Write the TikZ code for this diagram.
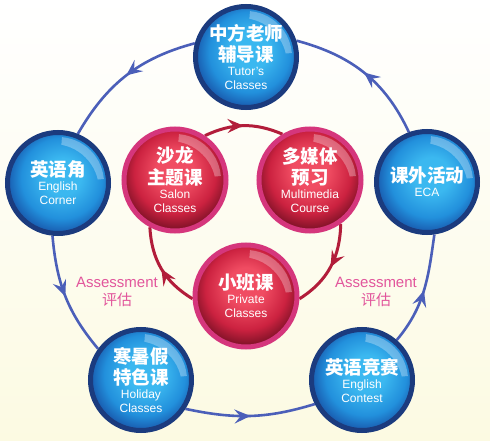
\documentclass[tikz,border=0pt]{standalone}
\usepackage{fontspec}
\setmainfont{Liberation Sans}
\newfontfamily\cjk{Noto Sans CJK SC}
\usetikzlibrary{arrows.meta,decorations.markings,backgrounds}

\definecolor{ringblue}{HTML}{4B5FB9}
\definecolor{ringred}{HTML}{B21D3A}
\definecolor{navyrim}{HTML}{1B3B7E}
\definecolor{bltop}{HTML}{3BB8F0}
\definecolor{blmid}{HTML}{2290DC}
\definecolor{bldark}{HTML}{1858AC}
\definecolor{pinkrim}{HTML}{D5367C}
\definecolor{rdtop}{HTML}{F04C62}
\definecolor{rdmid}{HTML}{CC2240}
\definecolor{rddark}{HTML}{520818}
\definecolor{assesspink}{HTML}{E2569C}
\definecolor{paleyellow}{HTML}{FCFAE2}

\pgfdeclareradialshading{bluesphere}{\pgfpoint{3bp}{4bp}}{color(0bp)=(bltop); color(9bp)=(bltop); color(20bp)=(blmid); color(27bp)=(bldark); color(50bp)=(bldark)}
\pgfdeclareradialshading{redsphere}{\pgfpoint{0bp}{6bp}}{color(0bp)=(rdtop); color(9bp)=(rdtop); color(20bp)=(rdmid); color(31bp)=(rddark); color(50bp)=(rddark)}

\newcommand{\zh}[1]{{\cjk\bfseries\fontsize{18.5}{22}\selectfont #1}}

\begin{document}
\begin{tikzpicture}[x=1pt, y=1pt,
    gloss/.style={path picture={
        \coordinate (gc) at (path picture bounding box.center);
        \begin{scope}
            \clip (gc) -- ++(5:60pt) arc (5:85:60pt) -- cycle;
            \fill[white, opacity=0.3, even odd rule] (gc) circle (46pt) ([shift={(-5pt,-7pt)}]gc) circle (46pt);
        \end{scope}}},
    bluenode/.style={circle, minimum size=101pt, inner sep=0pt, draw=navyrim, line width=5pt,
        shading=bluesphere, gloss, text=white, align=center, font=\fontsize{12}{14}\selectfont},
    rednode/.style={circle, minimum size=102pt, inner sep=0pt, draw=pinkrim, line width=5pt,
        shading=redsphere, gloss, text=white, align=center, font=\fontsize{12}{14}\selectfont},
    assess/.style={text=assesspink, align=center, font=\fontsize{15}{18}\selectfont},
    bluelink/.style={color=ringblue, line width=2.6pt, postaction={decorate},
        decoration={markings, mark=at position 0.5 with {\arrow{Stealth[length=16pt,width=14pt,inset=6pt]}}}},
    redlink/.style={color=ringred, line width=3pt, postaction={decorate},
        decoration={markings, mark=at position 0.5 with {\arrow{Stealth[length=16pt,width=14pt,inset=6pt]}}}}]

    % outer cycle
    \node[bluenode] (tutor) at (246,383) {\zh{中方老师}\\[3pt]\zh{辅导课}\\Tutor's\\Classes};
    \node[bluenode] (corner) at (58,257) {\zh{英语角}\\English\\Corner};
    \node[bluenode] (holiday) at (141,60) {\zh{寒暑假}\\[3pt]\zh{特色课}\\Holiday\\Classes};
    \node[bluenode] (contest) at (362,60) {\zh{英语竞赛}\\English\\Contest};
    \node[bluenode] (eca) at (427,258) {\zh{课外活动}\\ECA};

    % inner cycle
    \node[rednode] (salon) at (175,260) {\zh{沙龙}\\[3pt]\zh{主题课}\\Salon\\Classes};
    \node[rednode] (media) at (310,260) {\zh{多媒体}\\[3pt]\zh{预习}\\Multimedia\\Course};
    \node[rednode] (private) at (246,144) {\zh{小班课}\\Private\\Classes};

    \node[assess] (assessL) at (117,148) {Assessment\\{\cjk 评估}};
    \node[assess] (assessR) at (376,148) {Assessment\\{\cjk 评估}};

    \begin{scope}[on background layer]
        \shade[top color=white, middle color=white, bottom color=paleyellow] (0,0) rectangle (490,440);
        % blue arcs
        \draw[bluelink] (tutor.165) to[out=195,in=60] (corner.68);
        \draw[bluelink] (corner.264) to[out=-85,in=130] (holiday.144);
        \draw[bluelink] (holiday.-33) to[out=-12,in=197] (contest.207);
        \draw[bluelink] (contest.49) to[out=50,in=-98] (eca.-82);
        \draw[bluelink] (eca.110) to[out=115,in=-15] (tutor.18);
        % red arcs
        \draw[redlink] (salon.56) to[out=25,in=157] (media.121);
        \draw[redlink] (media.-55) to[out=-91,in=32] (private.-3);
        \draw[redlink] (private.183) to[out=149,in=-87] (salon.-118);
    \end{scope}
\end{tikzpicture}
\end{document}
